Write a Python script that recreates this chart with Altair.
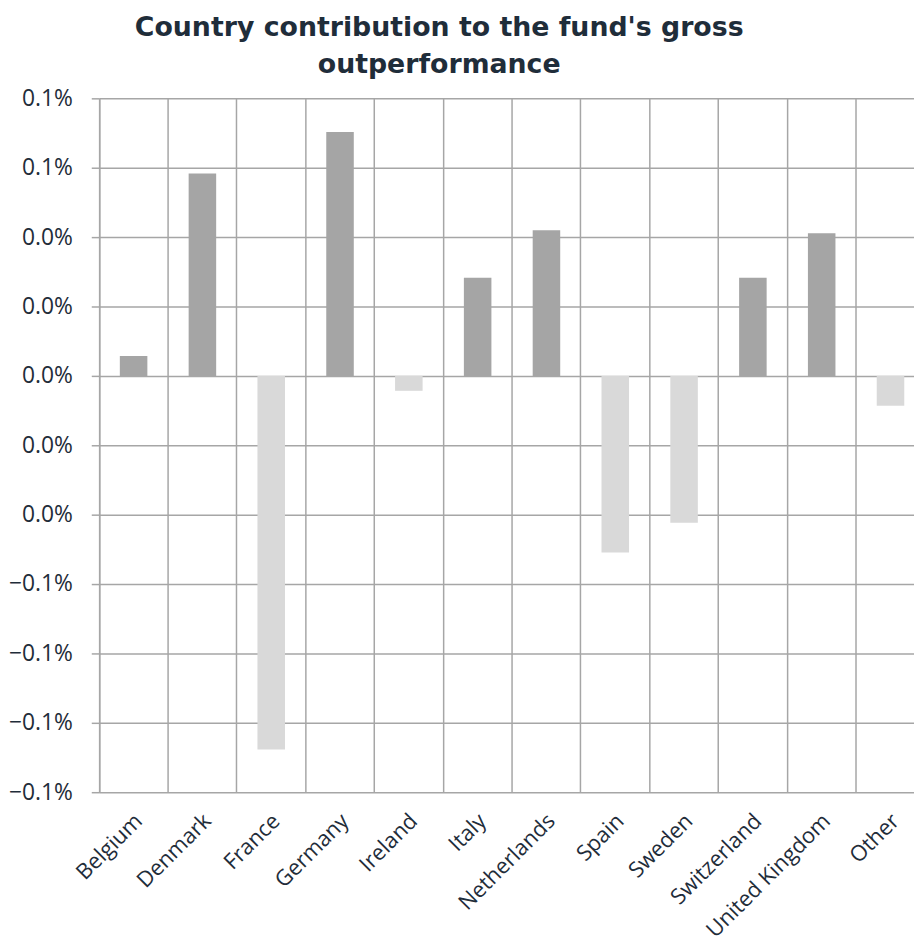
import altair as alt
import pandas as pd

countries = ["Belgium", "Denmark", "France", "Germany", "Ireland", "Italy",
             "Netherlands", "Spain", "Sweden", "Switzerland", "United Kingdom", "Other"]
# contribution in percentage points (as fractions)
values = [0.000057, 0.000583, -0.001077, 0.000703, -0.000043, 0.000283,
          0.000420, -0.000509, -0.000423, 0.000283, 0.000411, -0.000086]
y_ticks = [-0.0012, -0.0010, -0.0008, -0.0006, -0.0004, -0.0002, 0.0,
           0.0002, 0.0004, 0.0006, 0.0008]
title_lines = ["Country contribution to the fund's gross", "outperformance"]

df = pd.DataFrame({"country": countries, "value": values})
df["sign"] = ["pos" if v >= 0 else "neg" for v in values]

GRID = "#a6a6a6"
TEXT = "#1f2d3a"

bars = alt.Chart(df).mark_bar(width=alt.RelativeBandSize(0.4), clip=True).encode(
    x=alt.X("country:N", sort=countries, title=None,
            scale=alt.Scale(paddingInner=0, paddingOuter=0, range=[0, 833]),
            axis=alt.Axis(grid=True, bandPosition=0, gridColor=GRID, gridWidth=1.5,
                          ticks=False, domain=False, labelAngle=-45, labelAlign="right",
                          labelBaseline="top", labelPadding=18, labelOffset=-2,
                          labelFontSize=22, labelFont="Open Sans", labelColor=TEXT)),
    y=alt.Y("value:Q", title=None,
            scale=alt.Scale(domain=[-0.0012, 0.0008], nice=False, zero=False),
            axis=alt.Axis(values=y_ticks, format=".1%", grid=True, gridColor=GRID,
                          gridWidth=1.5, tickColor=GRID, tickSize=8, tickWidth=1.5,
                          domain=True, domainColor=GRID, domainWidth=1.5,
                          labelPadding=19, labelFontSize=23, labelFont="Open Sans",
                          labelColor=TEXT)),
    color=alt.Color("sign:N", scale=alt.Scale(domain=["pos", "neg"],
                                              range=["#a5a5a5", "#d9d9d9"]), legend=None),
)

def title_line(text, y):
    return alt.Chart(pd.DataFrame({"t": [text]})).mark_text(
        font="DejaVu Sans", fontSize=27, fontWeight="bold", color=TEXT,
        align="center", baseline="alphabetic"
    ).encode(x=alt.value(343), y=alt.value(y), text="t:N")

chart = alt.layer(bars, title_line(title_lines[0], -63), title_line(title_lines[1], -26)).properties(
    width=822, height=700,
    autosize=alt.AutoSizeParams(type="none"),
    padding={"left": 92, "top": 87, "right": 0, "bottom": 150},
).configure_view(stroke=None)

chart.save("out.html", embed_options={"renderer": "svg", "actions": False})
